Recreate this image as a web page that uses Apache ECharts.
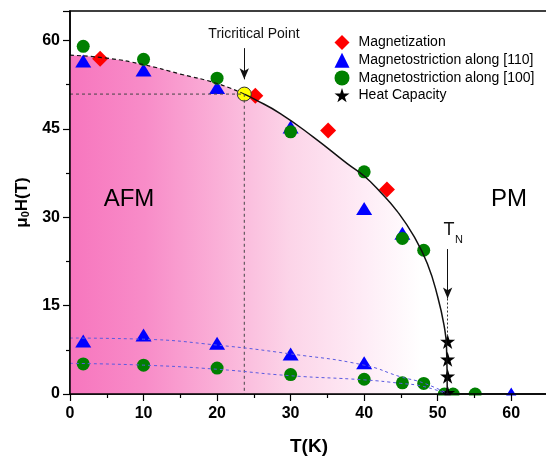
<!DOCTYPE html>
<html>
<head>
<meta charset="utf-8">
<script src="https://cdn.jsdelivr.net/npm/echarts@6/dist/echarts.min.js"></script>
<style>
  html, body { margin: 0; padding: 0; background: #fff; }
  #chart { width: 546px; height: 456px; }
</style>
</head>
<body>
<div id="chart"></div>
<script>
// magnetization
const magT = [4.1, 25.2, 35.1, 43.1];
const magH = [56.9, 50.6, 44.7, 34.7];
// magnetostriction along [110]
const ms110T = [1.8, 10, 20, 30, 40, 45.2, 1.8, 10, 20, 30, 40, 52, 55, 60];
const ms110H = [56.5, 55.0, 52.0, 45.3, 31.5, 27.3, 9.0, 10.0, 8.6, 6.8, 5.3, 0, 0, 0];
// magnetostriction along [100]
const ms100T = [1.8, 10, 20, 30, 40, 45.2, 48.1, 1.8, 10, 20, 30, 40, 45.2, 48.1, 50.9, 52.1, 55.1];
const ms100H = [59.0, 56.8, 53.6, 44.5, 37.7, 26.4, 24.4, 5.1, 4.9, 4.4, 3.3, 2.5, 1.9, 1.8, 0, 0, 0];
// heat capacity
const hcT = [51.35, 51.35, 51.35, 51.35];
const hcH = [8.9, 5.9, 3.0, 0.2];
// tricritical point
const tcT = 23.7;
const tcH = 50.9;
// phase boundary (dashed below tcT, solid above)
const bndDashT = [0, 5, 10, 15, 20, 23.7];
const bndDashH = [57.5, 57.0, 55.9, 54.3, 52.7, 50.9];
const bndSolidT = [23.7, 25, 28.6, 33.1, 37.7, 40, 42.2, 44.5, 46.8, 48.6, 50, 50.9, 51.2, 51.3];
const bndSolidH = [50.9, 50.1, 47.6, 43.6, 39.1, 37.0, 34.3, 31.0, 26.7, 22.1, 16.5, 11.4, 8.0, 0];
// low field guide curves
const fitUpT = [0, 10, 20, 30, 40, 45, 48, 51.5];
const fitUpH = [9.5, 9.3, 8.3, 6.8, 4.9, 2.9, 1.9, 0];
const fitLoT = [0, 10, 20, 30, 40, 45, 48, 51.3];
const fitLoH = [5.2, 4.9, 4.2, 3.1, 2.4, 1.8, 1.3, 0];

const xTicks = [0, 10, 20, 30, 40, 50, 60];
const yTicks = [0, 15, 30, 45, 60];

const FONT = 'Liberation Sans, Arial, sans-serif';
const pair = (xs, ys) => xs.map((x, i) => [x, ys[i]]);
const STAR = 'path://M50,0 L61.2,34.5 L97.6,34.5 L68.2,55.9 L79.4,90.5 L50,69.1 L20.6,90.5 L31.8,55.9 L2.4,34.5 L38.8,34.5 Z';
const DIAMOND = 'path://M50,0 L100,50 L50,100 L0,50 Z';

const chart = echarts.init(document.getElementById('chart'));

const axisCommon = {
  z: 101,
  axisLine: { show: true, onZero: false, lineStyle: { color: '#000', width: 1.5 } },
  axisTick: { show: true, inside: false, length: 7, lineStyle: { color: '#000', width: 1.2 } },
  minorTick: { show: true, splitNumber: 2, length: 4, lineStyle: { color: '#000', width: 1.2 } },
  splitLine: { show: false },
  minorSplitLine: { show: false },
  axisLabel: { color: '#000', fontSize: 16, fontWeight: 'bold', fontFamily: FONT, showMaxLabel: false }
};

const option = {
  animation: false,
  backgroundColor: '#fff',
  grid: {
    left: 70, top: 11, right: -2, bottom: 62, containLabel: false, outerBoundsMode: 'none',
    show: true, borderColor: '#000', borderWidth: 1.5
  },
  xAxis: Object.assign({}, axisCommon, {
    type: 'value', min: xTicks[0], max: 65, interval: 10,
    name: 'T(K)', nameLocation: 'middle', nameGap: 43,
    nameTextStyle: { color: '#000', fontSize: 19, fontWeight: 'bold', fontFamily: FONT },
    axisLabel: Object.assign({}, axisCommon.axisLabel, { margin: 12 })
  }),
  yAxis: Object.assign({}, axisCommon, {
    type: 'value', min: yTicks[0], max: 65, interval: 15,
    name: '{m|μ}{s|0}{m|H(T)}', nameLocation: 'middle', nameGap: 38,
    nameTextStyle: {
      color: '#000', fontSize: 17, fontWeight: 'bold', fontFamily: FONT,
      rich: {
        m: { fontSize: 17, fontWeight: 'bold', fontFamily: FONT, color: '#000', lineHeight: 20, verticalAlign: 'bottom' },
        s: { fontSize: 11, fontWeight: 'bold', fontFamily: FONT, color: '#000', lineHeight: 12, verticalAlign: 'bottom' }
      }
    },
    axisLabel: Object.assign({}, axisCommon.axisLabel, { margin: 10 })
  }),
  legend: {
    orient: 'vertical', left: 329.5, top: 30,
    itemWidth: 15, itemHeight: 15, itemGap: 2.7,
    selectedMode: false,
    textStyle: { color: '#000', fontSize: 14, fontFamily: FONT, padding: [0, 0, 0, 4] },
    data: [
      { name: 'Magnetization', icon: DIAMOND },
      'Magnetostriction along [110]',
      'Magnetostriction along [100]',
      'Heat Capacity'
    ]
  },
  graphic: [
    { type: 'rect', z: 100, silent: true, shape: { x: 71, y: 395.6, width: 480, height: 12 }, style: { fill: '#fff' } },
    { type: 'text', z: 60, x: 129, y: 199, silent: true, style: { text: 'AFM', fontSize: 24, fontFamily: FONT, fill: '#000', align: 'center', verticalAlign: 'middle' } },
    { type: 'text', z: 60, x: 509, y: 199, silent: true, style: { text: 'PM', fontSize: 24, fontFamily: FONT, fill: '#000', align: 'center', verticalAlign: 'middle' } },
    { type: 'text', z: 60, x: 254, y: 34, silent: true, style: { text: 'Tricritical Point', fontSize: 14, fontFamily: FONT, fill: '#111', align: 'center', verticalAlign: 'middle' } },
    { type: 'text', z: 60, x: 449, y: 230, silent: true, style: { text: 'T', fontSize: 18, fontFamily: FONT, fill: '#111', align: 'center', verticalAlign: 'middle' } },
    { type: 'text', z: 60, x: 459, y: 240, silent: true, style: { text: 'N', fontSize: 11, fontFamily: FONT, fill: '#111', align: 'center', verticalAlign: 'middle' } }
  ],
  series: [
    {
      type: 'line', silent: true, z: 1, symbol: 'none', smooth: 0.5,
      data: pair(bndDashT.concat(bndSolidT.slice(1)), bndDashH.concat(bndSolidH.slice(1))),
      lineStyle: { width: 0 },
      areaStyle: {
        opacity: 1,
        color: new echarts.graphic.LinearGradient(0, 0, 1, 0, [
          { offset: 0, color: 'rgb(247,118,190)' },
          { offset: 0.2, color: 'rgb(248,140,200)' },
          { offset: 0.39, color: 'rgb(250,175,215)' },
          { offset: 0.58, color: 'rgb(252,212,232)' },
          { offset: 0.78, color: 'rgb(254,236,246)' },
          { offset: 0.93, color: 'rgb(255,255,255)' },
          { offset: 1, color: 'rgb(255,255,255)' }
        ])
      }
    },
    {
      type: 'line', silent: true, symbol: 'none', smooth: 0.5,
      data: pair(bndDashT, bndDashH),
      lineStyle: { color: '#111', width: 1.2, type: [4, 3] }
    },
    {
      type: 'line', silent: true, symbol: 'none', smooth: 0.5,
      data: pair(bndSolidT, bndSolidH),
      lineStyle: { color: '#111', width: 1.5 }
    },
    {
      type: 'line', silent: true, symbol: 'none',
      data: [[0, tcH], [tcT, tcH], [tcT, 0]],
      lineStyle: { color: '#444', width: 1, type: [3, 3] },
      markLine: {
        silent: true, animation: false,
        symbol: ['none', 'arrow'], symbolSize: [7, 11],
        label: { show: false },
        lineStyle: { color: '#111', width: 1, type: 'solid' },
        data: [
          [{ coord: [tcT, 58.7] }, { coord: [tcT, 53.4] }],
          [{ coord: [hcT[0], 24.6] }, { coord: [hcT[0], 16.2] }],
          [{ coord: [hcT[0], 16.2], symbol: 'none', lineStyle: { type: [2, 2], color: '#333' } }, { coord: [hcT[0], 9.6], symbol: 'none' }]
        ]
      }
    },
    {
      type: 'line', silent: true, symbol: 'none', smooth: 0.5,
      data: pair(fitUpT, fitUpH),
      lineStyle: { color: '#5a5ae0', width: 1, type: [3, 3] }
    },
    {
      type: 'line', silent: true, symbol: 'none', smooth: 0.5,
      data: pair(fitLoT, fitLoH),
      lineStyle: { color: '#5a5ae0', width: 1, type: [3, 3] }
    },
    {
      name: 'Magnetostriction along [110]', type: 'scatter', symbol: 'triangle', symbolSize: [16, 13],
      data: pair(ms110T, ms110H), itemStyle: { color: '#0000ff', opacity: 1 }
    },
    {
      name: 'Magnetostriction along [100]', type: 'scatter', symbol: 'circle', symbolSize: 13,
      data: pair(ms100T, ms100H), itemStyle: { color: '#008000', opacity: 1 }
    },
    {
      name: 'Magnetization', type: 'scatter', symbol: 'diamond', symbolSize: 16,
      data: pair(magT, magH), itemStyle: { color: '#ff0000', opacity: 1 }
    },
    {
      name: 'Heat Capacity', type: 'scatter', symbol: STAR, symbolSize: 15,
      data: pair(hcT, hcH), itemStyle: { color: '#000', opacity: 1 }
    },
    {
      type: 'scatter', symbol: 'circle', symbolSize: 14,
      data: [[tcT, tcH]], itemStyle: { color: '#ffff00', borderColor: '#333', borderWidth: 1, opacity: 1 }
    }
  ]
};

chart.setOption(option);
</script>
</body>
</html>
